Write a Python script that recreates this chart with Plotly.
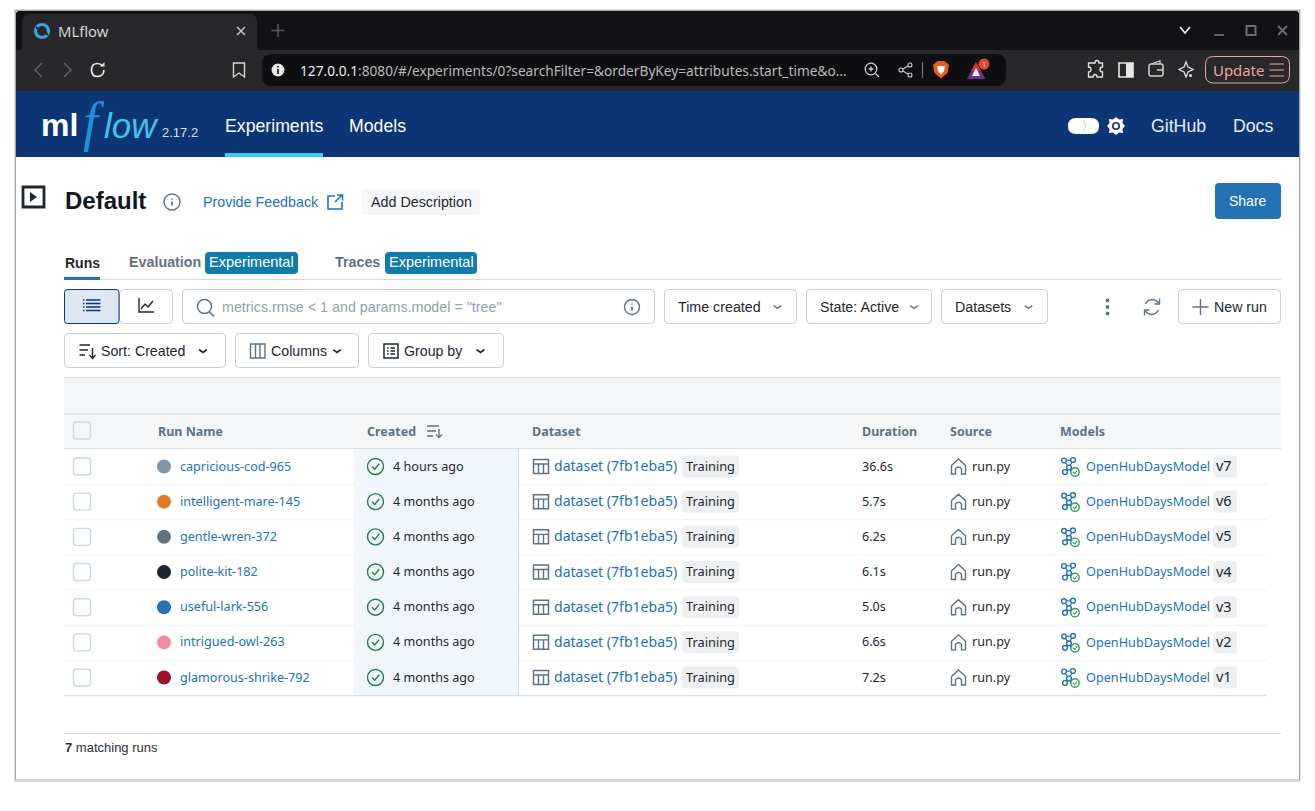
import plotly.graph_objects as go

# ---------- data ----------
run_names = ["capricious-cod-965", "intelligent-mare-145", "gentle-wren-372", "polite-kit-182",
             "useful-lark-556", "intrigued-owl-263", "glamorous-shrike-792"]
run_colors = ["#8396a5", "#e17a20", "#5f7281", "#1f272d", "#2272b4", "#f48da4", "#9e102c"]
created = ["4 hours ago", "4 months ago", "4 months ago", "4 months ago", "4 months ago", "4 months ago", "4 months ago"]
datasets = ["dataset (7fb1eba5)"] * 7
dataset_tags = ["Training"] * 7
durations = [36.6, 5.7, 6.2, 6.1, 5.0, 6.6, 7.2]
sources = ["run.py"] * 7
model_names = ["OpenHubDaysModel"] * 7
model_versions = ["v7", "v6", "v5", "v4", "v3", "v2", "v1"]
col_heads = ["Run Name", "Created", "Dataset", "Duration", "Source", "Models"]

# ---------- layout constants ----------
W, H = 1315, 811
ROW0, ROWH = 466.5, 35.17
rows = [ROW0 + i * ROWH for i in range(len(run_names))]
text_rows = [y + 1 for y in rows]
UI = "Liberation Sans"
TB = "Noto Sans"
BLUE = "#2272b4"
SLATE = "#5f7281"
BORDER = "#c4ced6"
INK = "#1f272d"

shapes, ann = [], []

def rr(x0, y0, x1, y1, fill=None, line=None, lw=1, r=0, layer="below"):
    if r:
        p = (f"M{x0+r},{y0} L{x1-r},{y0} Q{x1},{y0} {x1},{y0+r} L{x1},{y1-r} Q{x1},{y1} {x1-r},{y1} "
             f"L{x0+r},{y1} Q{x0},{y1} {x0},{y1-r} L{x0},{y0+r} Q{x0},{y0} {x0+r},{y0} Z")
        d = dict(type="path", path=p)
    else:
        d = dict(type="rect", x0=x0, y0=y0, x1=x1, y1=y1)
    d.update(fillcolor=fill or "rgba(0,0,0,0)", line=dict(color=line or "rgba(0,0,0,0)", width=lw if line else 0), layer=layer)
    shapes.append(d)

def circ(cx, cy, r, fill=None, line=None, lw=1, layer="above"):
    shapes.append(dict(type="circle", x0=cx-r, y0=cy-r, x1=cx+r, y1=cy+r, fillcolor=fill or "rgba(0,0,0,0)",
                       line=dict(color=line or "rgba(0,0,0,0)", width=lw if line else 0), layer=layer))

def pth(p, line=None, lw=1.5, fill=None, layer="above"):
    shapes.append(dict(type="path", path=p, fillcolor=fill or "rgba(0,0,0,0)",
                       line=dict(color=line or "rgba(0,0,0,0)", width=lw if line else 0), layer=layer))

def txt(x, y, s, size=14, color=INK, font=UI, anchor="left"):
    ann.append(dict(x=x, y=y, text=s, showarrow=False, xanchor=anchor, yanchor="middle", xref="x", yref="y",
                    font=dict(size=size, color=color, family=font), borderpad=0, borderwidth=0))

def chev(x, y, color=INK, w=4, lw=1.5, h=None):
    h = h if h is not None else w * 0.75
    pth(f"M{x-w},{y-h/2} L{x},{y+h/2} L{x+w},{y-h/2}", color, lw)

def info(x, y, color=SLATE, r=7.5):
    circ(x, y, r, line=color, lw=1.4)
    pth(f"M{x},{y-0.5} L{x},{y+3.5}", color, 1.6)
    pth(f"M{x},{y-3.6} L{x},{y-2.2}", color, 1.6)

# ---------- window chrome ----------
rr(14.5, 9.5, 1300.5, 781.5, fill="#ffffff", line="#dedede", lw=1)
rr(15.5, 10.5, 1299.5, 780, fill="#ffffff", line="#a8a8a8", lw=1)
rr(16, 11, 1299, 50, fill="#121214", r=3)
rr(16, 40, 1299, 50, fill="#121214")
rr(16, 50, 1299, 91, fill="#28282b")
rr(22, 14, 257, 47, fill="#28282b", r=8)
rr(22, 40, 257, 50, fill="#28282b")
rr(262, 54, 1006, 86, fill="#0f0f11", r=10)
rr(16, 91, 1299, 157, fill="#0c3574")

# tab
circ(42, 31, 6.5, line="#36a7e2", lw=3.2)
pth("M36,27 L40,31", "#28282b", 2)
pth("M48,35 L44,31", "#28282b", 2)
txt(58, 30.5, "MLflow", 14.8, "#d4d4d6", TB)
pth("M237,27 L245,35 M245,27 L237,35", "#c9c9cb", 1.5)
pth("M278,24 V37 M271.5,30.5 H284.5", "#5a5a5d", 1.5)
# toolbar icons
pth("M42,63 L35,70 L42,77", "#67676a", 1.3)
pth("M64,63 L71,70 L64,77", "#67676a", 1.3)
shapes.append(dict(type="path", path="M103,66 Q100,63.5 97.5,63.5 Q91.5,63.5 91.5,70 Q91.5,76.5 97.5,76.5 Q103.5,76.5 104,70",
                   line=dict(color="#e8e8e8", width=1.7), layer="above"))
pth("M100,66.5 H104.5 V62 Z", None, 0, "#e8e8e8")
pth("M233.5,63 H244.5 V77 L239,73 L233.5,77 Z", "#d8d8d8", 1.4)
circ(278, 70, 6.5, fill="#e8e8e8")
pth("M278,69 V74 M278,66 V67.5", "#0f0f11", 1.6)
txt(300, 70, "127.0.0.1<span style='color:#b9b9bb'>:8080/#/experiments/0?searchFilter=&orderByKey=attributes.start_time&o…</span>", 13.7, "#ececec", TB)
circ(871, 69, 5.8, line="#cfcfd1", lw=1.3)
pth("M875.5,73.5 L879,77 M871,66.5 V71.5 M868.5,69 H873.5", "#cfcfd1", 1.3)
circ(901, 70, 2, line="#cfcfd1", lw=1.1); circ(910, 65, 2, line="#cfcfd1", lw=1.1); circ(910, 75, 2, line="#cfcfd1", lw=1.1)
pth("M903,69 L908,66 M903,71 L908,74", "#cfcfd1", 1.1)
pth("M922.5,62 V78", "#77777a", 1.2)
pth("M935,63 L938,61 H944 L947,63 L949,65 L947.5,73 L941,78.5 L934.5,73 L933,65 Z", None, 0, "#f25a1c")
pth("M937,66 H945 L944,71 L941,74.5 L938,71 Z", None, 0, "#ffffff")
pth("M976,62 L985.5,79 H967 Z", None, 0, "#6b2d90")
pth("M976,62 L981,71 H971 Z", None, 0, "#d92f3c")
pth("M976,68 L980,76 H972 Z", None, 0, "#ffffff")
circ(984, 64, 5.5, fill="#e8442e")
txt(984, 64, "1", 7.5, "#ffffff", TB, "center")
pth("M1090,63 H1095 Q1095,60.5 1097,60.5 Q1099,60.5 1099,63 H1102.5 V67 Q1100,67 1100,69.5 Q1100,72 1102.5,72 V77 H1097 Q1097,74.5 1095,74.5 Q1093,74.5 1093,77 H1088.5 V72 Q1091,72 1091,69.5 Q1091,67 1088.5,67 V63 Z", "#e3e3e5", 1.3)
rr(1119, 63, 1133, 77, line="#e8e8e8", lw=1.6, layer="above")
rr(1126, 63, 1133, 77, fill="#e8e8e8", layer="above")
rr(1149, 64, 1163, 76, line="#cfcfd1", lw=1.5, r=2, layer="above")
pth("M1151,64 L1160,61 V64 M1157,70 H1163", "#cfcfd1", 1.3)
pth("M1186,62 L1188,67 L1193,69.5 L1188,72 L1186,77 L1184,72 L1179,69.5 L1184,67 Z", "#e3e3e5", 1.3)
circ(1190.5, 75.5, 1.6, fill="#e3e3e5")
rr(1205.5, 56.5, 1289.5, 83, line="#eba69f", lw=1, r=8, layer="above")
txt(1213, 70, "Update", 14.9, "#f0a59c", TB)
pth("M1269.5,64 H1284 M1269.5,70 H1284 M1269.5,76 H1284", "#f0a59c", 1.2)
# window controls
pth("M1180,27 L1185,33 L1190,27", "#eeeeee", 1.7)
pth("M1214,35 H1224", "#6d6d70", 1.8)
rr(1246.5, 26, 1255.5, 35, line="#6d6d70", lw=2, layer="above")
pth("M1278,26 L1287,35 M1287,26 L1278,35", "#6d6d70", 1.8)

# ---------- header ----------
txt(41, 125, "<b>ml</b>", 32, "#ffffff", UI)
txt(83, 122, "<i>f</i>", 54, "#1a93dc", "Liberation Serif")
txt(104, 125, "<i>low</i>", 35, "#43c2ee", UI)
txt(162, 132, "2.17.2", 13, "#d8e1ea", UI)
txt(225, 126, "Experiments", 17.7, "#ffffff", UI)
txt(349, 126, "Models", 17.7, "#ffffff", UI)
rr(225, 153, 323, 157, fill="#43c9ed")
rr(1068, 118, 1099, 134, fill="#ffffff", r=8)
shapes.append(dict(type="path", path="M1083,120 Q1088,126 1083,132", line=dict(color="#c9d2dc", width=1), layer="above"))
pth("M1116,117 L1119,119.5 L1123,119 L1122.5,123 L1125,126 L1122.5,129 L1123,133 L1119,132.5 L1116,135 L1113,132.5 L1109,133 L1109.5,129 L1107,126 L1109.5,123 L1109,119 L1113,119.5 Z", None, 0, "#ffffff")
circ(1116, 126, 4, fill="#0c3574")
circ(1116, 126, 2.4, fill="#ffffff")
txt(1151, 126, "GitHub", 17.7, "#e6edf5", UI)
txt(1233, 126, "Docs", 17.7, "#e6edf5", UI)

# ---------- title row ----------
rr(23, 187, 44, 207, line="#1f272d", lw=2.8, layer="above")
pth("M30,192 L37,197 L30,202 Z", None, 0, "#1f272d")
txt(65, 200, "<b>Default</b>", 24, "#11171c", UI)
info(172, 202, "#5f7281", 8)
txt(203, 202, "Provide Feedback", 14.3, BLUE, UI)
pth("M335,196 H328 V209 H342 V202", BLUE, 1.6)
pth("M335,202 L342,195 M337,195 H342.5 V200.5", BLUE, 1.6)
rr(362, 189, 480, 215, fill="#f5f6f7", r=4)
txt(371, 202, "Add Description", 14.3, INK, UI)
rr(1215, 183, 1281, 219, fill=BLUE, r=4)
txt(1248, 201, "Share", 14, "#ffffff", UI, "center")

# ---------- tabs ----------
txt(65, 263, "<b>Runs</b>", 14, INK, UI)
txt(129, 262, "<b>Evaluation</b>", 14.3, SLATE, UI)
txt(335, 262, "<b>Traces</b>", 14.3, SLATE, UI)
rr(205, 252, 298, 274, fill="#117cab", r=4)
rr(385, 252, 477, 274, fill="#117cab", r=4)
txt(251.5, 262, "Experimental", 14.5, "#ffffff", UI, "center")
txt(431, 262, "Experimental", 14.5, "#ffffff", UI, "center")
rr(64, 279, 1281, 280, fill="#d1d9e1")
rr(64, 277, 100, 280, fill=BLUE)

# ---------- toolbar rows ----------
def btn(x0, y0, x1, y1, **k):
    rr(x0+.5, y0+.5, x1-.5, y1-.5, fill="#ffffff", line=BORDER, lw=1, r=4, **k)

btn(119, 289, 173, 324)
rr(64.5, 289.5, 119, 323.5, fill="#dce7f1", line="#0e3574", lw=1, r=3)
for yy in (300, 303.5, 307, 310.5):
    pth(f"M83,{yy} H84.5 M86,{yy} H100.5", "#0e3574", 1.4)
pth("M139,298 V312 H154", INK, 1.4)
pth("M141,309 L145,304 L148,307 L153,301", INK, 1.4)
btn(182, 289, 655, 324)
circ(204.5, 306.5, 7, line=SLATE, lw=1.5)
pth("M209.5,312 L214,316.5", SLATE, 1.5)
txt(222, 307, 'metrics.rmse &lt; 1 and params.model = "tree"', 14.3, "#92a1ae", UI)
info(632, 307)
for x0, x1, label, cx, lab_x in [(664, 797, "Time created", 777.5, 678), (806, 932, "State: Active", 914, 820), (941, 1048, "Datasets", 1028.5, 955)]:
    btn(x0, 289, x1, 324)
    txt(lab_x, 307, label, 14.25, INK, UI)
    chev(cx, 307, SLATE, 3.8, 1.4)
for yy in (300.5, 307, 313.5):
    circ(1107.5, yy, 1.9, fill=SLATE)
shapes.append(dict(type="path", path="M1145.5,304 Q1148,299.5 1152,299.5 Q1156,299.5 1158.5,303", line=dict(color=SLATE, width=1.5), layer="above"))
shapes.append(dict(type="path", path="M1158.5,310 Q1156,314.5 1152,314.5 Q1148,314.5 1145.5,311", line=dict(color=SLATE, width=1.5), layer="above"))
pth("M1159.5,298.5 V304 H1154.5", SLATE, 1.4)
pth("M1144.5,315.5 V310 H1149.5", SLATE, 1.4)
btn(1178, 289, 1281, 324)
pth("M1200.5,299 V315 M1192.5,307 H1208.5", SLATE, 1.4)
txt(1214, 307, "New run", 14.2, INK, UI)

btn(64, 333, 226, 368)
pth("M79.5,345 H90 M79.5,350 H88 M79.5,355 H85", INK, 1.4)
pth("M92.5,348 V358 M89.5,355 L92.5,358.5 L95.5,355", INK, 1.4)
txt(101, 351, "Sort: Created", 14.2, INK, UI)
chev(203, 351, INK, 4, 1.6)
btn(235, 333, 359, 368)
rr(250.5, 344, 265, 358, line=SLATE, lw=1.4, layer="above")
pth("M255.5,344 V358 M260,344 V358", SLATE, 1.4)
txt(271, 351, "Columns", 14.2, INK, UI)
chev(337, 351, INK, 3.8, 1.6)
btn(368, 333, 504, 368)
rr(384, 344, 398, 358, line=INK, lw=1.5, layer="above")
pth("M387,348 H388.5 M390.5,348 H395 M387,351 H388.5 M390.5,351 H395 M387,354 H388.5 M390.5,354 H395", INK, 1.3)
txt(404, 351, "Group by", 14.2, INK, UI)
chev(480.5, 351, INK, 4, 1.6)

# ---------- table frame ----------
rr(64, 378, 1281, 449, fill="#f5f6f7")
rr(64, 377, 1281, 378, fill="#d8dfe5")
rr(64, 413.5, 1281, 414.5, fill="#d8dfe5")
rr(64, 448, 1281, 449, fill="#d8dfe5")
rr(354, 449, 518, 695, fill="#eff7fd")
rr(518, 449, 519, 695, fill="#c9d8e6")
rr(73.5, 422, 90.5, 439, fill="#f5f6f7", line="#c8d8e8", lw=1.4, r=3)
for i, y in enumerate(rows):
    ly = y + ROWH / 2
    if i == len(rows) - 1:
        rr(64, ly, 1267, ly + 1.2, fill="#d8dfe5")
    else:
        rr(64, ly, 354, ly + .9, fill="#eef1f3")
        rr(519, ly, 1267, ly + .9, fill="#eef1f3")
    rr(73.5, y - 8.5, 90.5, y + 8.5, fill="#ffffff", line="#c8d8e8", lw=1.4, r=3)
    circ(375.5, y, 8, line="#277c43", lw=1.4)
    pth(f"M372,{y} L374.7,{y+2.7} L379.2,{y-2.7}", "#277c43", 1.4)
    rr(533.5, y - 7, 548.5, y + 7, line=SLATE, lw=1.5, layer="above")
    pth(f"M533.5,{y-2.5} H548.5 M538.5,{y-2.5} V{y+7} M543.5,{y-2.5} V{y+7}", SLATE, 1.4)
    rr(682, y - 11, 739, y + 11, fill="#edeff1", r=4)
    pth(f"M951.5,{y+7.5} V{y-1} L958.5,{y-7.5} L965.5,{y-1} V{y+7.5} H961.5 V{y+2} Q958.5,{y-1} 955.5,{y+2} V{y+7.5} Z", SLATE, 1.4)
    pth(f"M1064,{y-6} L1073,{y-6.5} L1069,{y+1} L1064,{y-6} M1069,{y+1} L1065,{y+5.5} M1069,{y+1} L1072,{y+7}", BLUE, 1.2)
    for dx, dy in [(1064, -6), (1073, -6.5), (1069, 1), (1065, 5.5)]:
        circ(dx, y + dy, 2.4, fill="#ffffff", line=BLUE, lw=1.4)
    circ(1075, y + 5.5, 4.2, fill="#ffffff", line="#2e9e57", lw=1.4)
    pth(f"M1073,{y+5.5} L1074.7,{y+7} L1077.2,{y+4}", "#2e9e57", 1.1)
    rr(1213, y - 11, 1237, y + 11, fill="#edeff1", r=4)

pth("M427,426 H439 M427,431 H436 M427,436 H433", SLATE, 1.3)
pth("M439,429 V437.5 M436,434.5 L439,437.5 L442,434.5", SLATE, 1.3)

rr(64, 733, 1281, 734, fill="#d8dfe5")
txt(65, 747.5, "<b>7</b> matching runs", 13, "#2b3238", UI)

fig = go.Figure()

def column(x, labels, color=INK, size=12.6):
    fig.add_trace(go.Scatter(x=[x] * len(labels), y=text_rows, text=labels, mode="text", textposition="middle right",
                             textfont=dict(family=TB, size=size, color=color), hoverinfo="skip", showlegend=False))

fig.add_trace(go.Scatter(x=[164] * len(rows), y=rows, mode="markers", showlegend=False, hoverinfo="skip",
                         marker=dict(size=14, color=run_colors, line=dict(width=0))))
column(180, run_names, BLUE)
column(393, created)
column(554, datasets, BLUE, 14.05)
column(686, dataset_tags, INK, 12.8)
column(862, [f"{d:.1f}s" for d in durations])
column(972, sources)
column(1086, model_names, BLUE, 12.7)
column(1216, model_versions, INK, 14.5)

fig.add_trace(go.Scatter(x=[158, 367, 532, 862, 950, 1060], y=[433] * 6, text=[f"<b>{c}</b>" for c in col_heads],
                         mode="text", textposition="middle right", hoverinfo="skip", showlegend=False,
                         textfont=dict(family=TB, size=12.5, color=SLATE)))

fig.update_layout(width=W, height=H, margin=dict(l=0, r=0, t=0, b=0), paper_bgcolor="#ffffff", plot_bgcolor="#ffffff",
                  shapes=shapes, annotations=ann, showlegend=False, autosize=False,
                  xaxis=dict(range=[0, W], visible=False, fixedrange=True),
                  yaxis=dict(range=[H, 0], visible=False, fixedrange=True))

fig.write_html("out.html", config=dict(displayModeBar=False),
               post_script="document.body.style.margin='0';document.documentElement.style.overflow='hidden';")
